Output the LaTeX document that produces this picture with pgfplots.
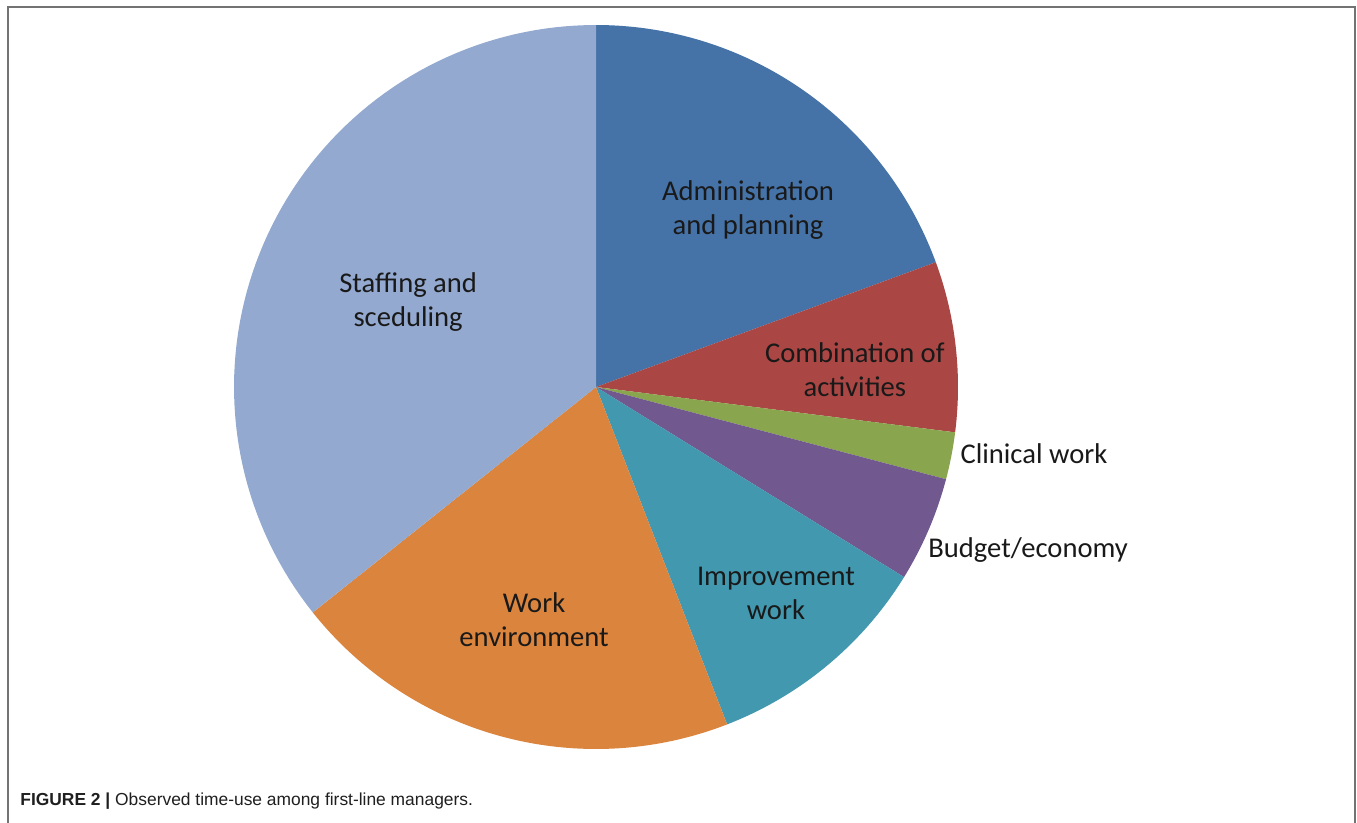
\documentclass[border=0pt]{standalone}
\usepackage{pgfplots}
\pgfplotsset{compat=1.18}
\usepackage{fontspec}
\setmainfont{Carlito}
\newfontfamily\capfont{Liberation Sans}
\definecolor{cAdm}{HTML}{4572A7}
\definecolor{cComb}{HTML}{AA4643}
\definecolor{cClin}{HTML}{89A54E}
\definecolor{cBud}{HTML}{71588F}
\definecolor{cImp}{HTML}{4198AF}
\definecolor{cWork}{HTML}{DB843D}
\definecolor{cStaff}{HTML}{93A9CF}
% shares in percent (clockwise from top):
% Administration and planning 19.4, Combination of activities 7.6,
% Clinical work 2.1, Budget/economy 4.7, Improvement work 10.3,
% Work environment 20.2, Staffing and sceduling 35.7
\newcommand{\slice}[3]{%
  \addplot[fill=#3, draw=none, domain=#2:#1, samples=80]
    ({cos(x)},{sin(x)}) -- (axis cs:0,0) -- cycle;}
\begin{document}
\begin{tikzpicture}
\useasboundingbox (0pt,0pt) rectangle (678.5pt,-411.5pt);
\draw[line width=1pt, color=black!55] (4pt,-411.5pt) -- (4pt,-3.5pt) -- (677.5pt,-3.5pt) -- (677.5pt,-411.5pt);
\begin{axis}[
  at={(298pt,-193.5pt)}, anchor=center,
  x=181pt, y=181pt,
  xmin=-1, xmax=1, ymin=-1, ymax=1,
  hide axis, clip=false,
  font=\fontsize{14.3}{17}\selectfont,
]
\slice{90}{20.16}{cAdm}
\slice{20.16}{-7.2}{cComb}
\slice{-7.2}{-14.76}{cClin}
\slice{-14.76}{-31.68}{cBud}
\slice{-31.68}{-68.76}{cImp}
\slice{-68.76}{-141.48}{cWork}
\slice{-141.48}{-270}{cStaff}
\node[align=center, text=black!90] at (axis cs:0.420,0.489) {Administration\\and planning};
\node[align=center, text=black!90] at (axis cs:0.715,0.047) {Combination of\\activities};
\node[anchor=west, inner sep=0pt, text=black!90] at (axis cs:1.006,-0.185) {Clinical work};
\node[anchor=west, inner sep=0pt, text=black!90] at (axis cs:0.917,-0.450) {Budget/economy};
\node[align=center, text=black!90] at (axis cs:0.497,-0.569) {Improvement\\work};
\node[align=center, text=black!90] at (axis cs:-0.171,-0.644) {Work\\environment};
\node[align=center, text=black!90] at (axis cs:-0.519,0.235) {Staffing and\\sceduling};
\end{axis}
\node[anchor=west, inner sep=0pt, text=black!88, font=\capfont\fontsize{8.7}{11}\selectfont] at (10pt,-400.5pt) {\textbf{FIGURE 2 |} Observed time-use among first-line managers.};
\end{tikzpicture}
\end{document}
